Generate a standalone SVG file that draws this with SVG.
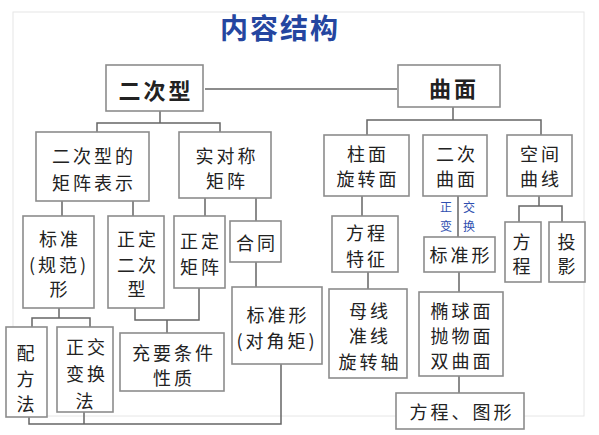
<svg xmlns="http://www.w3.org/2000/svg" width="599" height="435" viewBox="0 0 599 435">
<style>
.b{fill:#fff;stroke:#8c8c8c;stroke-width:1.6}
.t{font-family:"Noto Sans CJK SC","Liberation Serif",serif;font-size:18px;fill:#222;text-anchor:middle;dominant-baseline:central;letter-spacing:3px}
.h{font-weight:bold;font-size:22px}
.l{fill:none;stroke:#666;stroke-width:1.5}
.s{font-family:"Noto Sans CJK SC",sans-serif;font-size:12px;fill:#2f4fb0;text-anchor:middle;dominant-baseline:central}
</style>
<rect x="0" y="0" width="599" height="435" fill="#fff"/>
<rect x="13" y="12" width="571" height="404" fill="none" stroke="#e6e6e6" stroke-width="1"/>
<text x="280" y="27" font-family="Noto Sans CJK SC,sans-serif" font-size="28" font-weight="bold" fill="#2546a0" text-anchor="middle" dominant-baseline="central" letter-spacing="2">内容结构</text>
<g id="connectors">
<path class="l" d="M205 89H397"/>
<path class="l" d="M160 111V123M97 132V123H220V132"/>
<path class="l" d="M62 201V216M133 201V216M205 198V216M256 198V221M256 262V287"/>
<path class="l" d="M59 308V318M32 327V318H90V327"/>
<path class="l" d="M135 308V320H199V288M167 320V333"/>
<path class="l" d="M29 417V424H281V364M84 412V424"/>
<path class="l" d="M453 107V120M367 135V120H541V135"/>
<path class="l" d="M362 196V216M368 272V289"/>
<path class="l" d="M458 196V237M459 272V292M459 376V393"/>
<path class="l" d="M539 196V206M519 222V206H562V222"/>
</g>
<g id="n1"><rect class="b" x="106" y="65" width="97" height="46"/><text class="t h" x="156" y="89">二次型</text></g>
<g id="n2"><rect class="b" x="398" y="65" width="102" height="42"/><text class="t h" x="454" y="87" letter-spacing="10">曲面</text></g>
<g id="n3"><rect class="b" x="36" y="132" width="113" height="69"/><text class="t" x="94" y="155">二次型的</text><text class="t" x="94" y="182">矩阵表示</text></g>
<g id="n4"><rect class="b" x="179" y="132" width="92" height="66"/><text class="t" x="227" y="155">实对称</text><text class="t" x="227" y="180">矩阵</text></g>
<g id="n5"><rect class="b" x="23" y="216" width="71" height="92"/><text class="t" x="60" y="238">标准</text><text class="t" x="59" y="264" letter-spacing="0">(规范)</text><text class="t" x="60" y="288">形</text></g>
<g id="n6"><rect class="b" x="108" y="216" width="56" height="92"/><text class="t" x="138" y="238">正定</text><text class="t" x="138" y="264">二次</text><text class="t" x="138" y="288">型</text></g>
<g id="n7"><rect class="b" x="174" y="216" width="51" height="72"/><text class="t" x="201" y="240">正定</text><text class="t" x="201" y="266">矩阵</text></g>
<g id="n8"><rect class="b" x="230" y="221" width="51" height="41"/><text class="t" x="257" y="242">合同</text></g>
<g id="n9"><rect class="b" x="232" y="287" width="90" height="77"/><text class="t" x="278" y="314">标准形</text><text class="t" x="277" y="340" letter-spacing="1">(对角矩)</text></g>
<g id="n10"><rect class="b" x="6" y="327" width="41" height="90"/><text class="t" x="27" y="352">配</text><text class="t" x="27" y="378">方</text><text class="t" x="27" y="403">法</text></g>
<g id="n11"><rect class="b" x="57" y="327" width="56" height="85"/><text class="t" x="87" y="346">正交</text><text class="t" x="87" y="373">变换</text><text class="t" x="86" y="400">法</text></g>
<g id="n12"><rect class="b" x="120" y="333" width="104" height="58"/><text class="t" x="174" y="352">充要条件</text><text class="t" x="174" y="377">性质</text></g>
<g id="n13"><rect class="b" x="324" y="135" width="85" height="61"/><text class="t" x="368" y="153">柱面</text><text class="t" x="368" y="178">旋转面</text></g>
<g id="n14"><rect class="b" x="423" y="135" width="64" height="61"/><text class="t" x="457" y="153">二次</text><text class="t" x="457" y="178">曲面</text></g>
<g id="n15"><rect class="b" x="507" y="135" width="65" height="61"/><text class="t" x="541" y="153">空间</text><text class="t" x="541" y="178">曲线</text></g>
<g id="lbl"><text class="s" x="446" y="206">正</text><text class="s" x="446" y="225">变</text><text class="s" x="469" y="206">交</text><text class="s" x="469" y="225">换</text></g>
<g id="n16"><rect class="b" x="332" y="216" width="66" height="56"/><text class="t" x="367" y="232">方程</text><text class="t" x="367" y="258">特征</text></g>
<g id="n17"><rect class="b" x="424" y="237" width="71" height="35"/><text class="t" x="461" y="254">标准形</text></g>
<g id="n18"><rect class="b" x="505" y="222" width="36" height="60"/><text class="t" x="523" y="241">方</text><text class="t" x="523" y="265">程</text></g>
<g id="n19"><rect class="b" x="549" y="222" width="36" height="60"/><text class="t" x="568" y="241">投</text><text class="t" x="568" y="265">影</text></g>
<g id="n20"><rect class="b" x="329" y="289" width="78" height="89"/><text class="t" x="370" y="310">母线</text><text class="t" x="370" y="335">准线</text><text class="t" x="370" y="361">旋转轴</text></g>
<g id="n21"><rect class="b" x="419" y="292" width="84" height="84"/><text class="t" x="462" y="310">椭球面</text><text class="t" x="462" y="335">抛物面</text><text class="t" x="462" y="360">双曲面</text></g>
<g id="n22"><rect class="b" x="396" y="393" width="128" height="36"/><text class="t" x="462" y="411">方程、图形</text></g>
</svg>
